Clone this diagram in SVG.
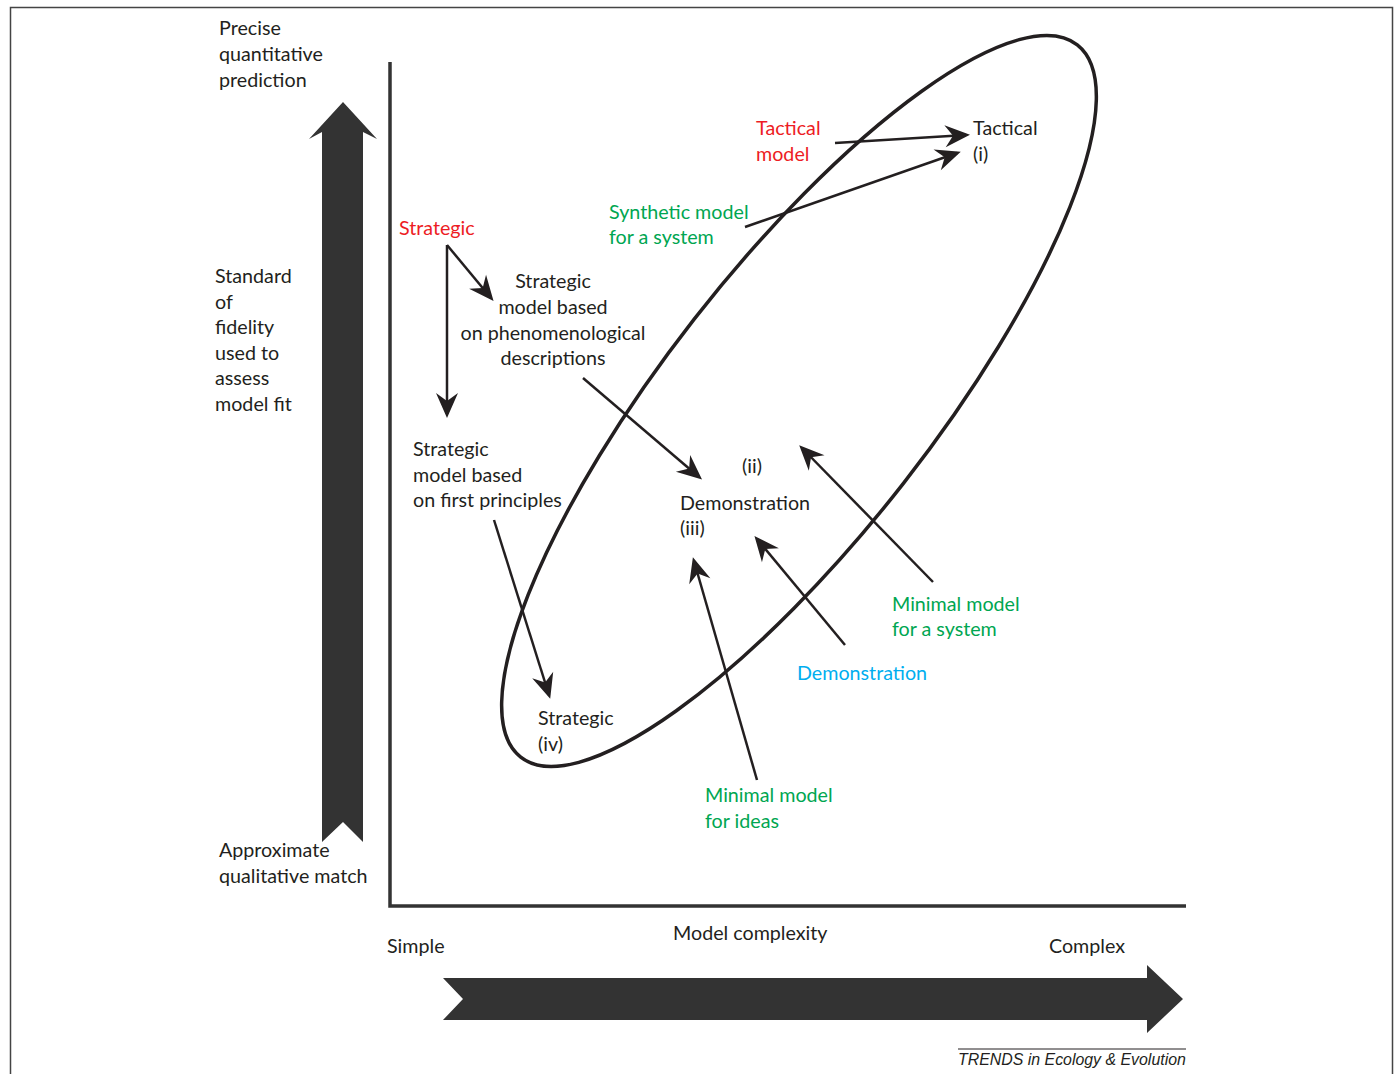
<svg xmlns="http://www.w3.org/2000/svg" width="1394" height="1074" viewBox="0 0 1394 1074">
<defs>
<style>
text{font-family:Lato,"Open Sans","Liberation Sans",sans-serif;font-size:19.7px;fill:#231f20}
.red{fill:#ed1c24}.green{fill:#00a651}.blue{fill:#00aeef}
.conn{stroke:#231f20;stroke-width:2.5;fill:none;marker-end:url(#ah)}
.axis{stroke:#333;stroke-width:3.5;fill:none}
.credit{font-family:"Liberation Sans",Arial,sans-serif;font-style:italic;font-size:15.9px}
</style>
<marker id="ah" viewBox="-22 -12 28 24" refX="0" refY="0" markerWidth="28" markerHeight="24" orient="auto" markerUnits="userSpaceOnUse">
<path d="M4,0 L-21,-11 L-13,0 L-21,11 Z" fill="#231f20"/>
</marker>
</defs>
<rect width="1394" height="1074" fill="#fff"/>
<path d="M10.5,1074 V7.5 H1392.5 V1074" fill="none" stroke="#444" stroke-width="1.5"/>

<g id="fidelity-arrow">
<polygon points="343,102 377,139 363,132 363,842 343,822 322,842 322,132 309,139" fill="#333"/>
</g>
<g id="complexity-arrow">
<polygon points="443,978 1147,978 1147,965 1183,999 1147,1033 1147,1020 443,1020 463,999" fill="#333"/>
</g>
<g id="axes">
<path class="axis" d="M390,62 V906 H1186"/>
</g>
<g id="domain-ellipse">
<ellipse cx="799" cy="401" rx="452" ry="133" transform="rotate(-52 799 401)" fill="none" stroke="#231f20" stroke-width="3.5"/>
</g>

<g id="labels-axis">
<text x="219" y="35">Precise</text>
<text x="219" y="61">quantitative</text>
<text x="219" y="87">prediction</text>
<text x="215" y="283">Standard</text>
<text x="215" y="309">of</text>
<text x="215" y="334">fidelity</text>
<text x="215" y="360">used to</text>
<text x="215" y="385">assess</text>
<text x="215" y="411">model fit</text>
<text x="219" y="857">Approximate</text>
<text x="219" y="883">qualitative match</text>
<text x="387" y="953">Simple</text>
<text x="673" y="940">Model complexity</text>
<text x="1049" y="953">Complex</text>
</g>

<g id="tactical-model"><text class="red" x="756" y="135">Tactical</text><text class="red" x="756" y="161">model</text></g>
<g id="tactical-i"><text x="973" y="135">Tactical</text><text x="973" y="161">(i)</text></g>
<g id="synthetic-model"><text class="green" x="609" y="219">Synthetic model</text><text class="green" x="609" y="244">for a system</text></g>
<g id="strategic-red"><text class="red" x="399" y="235">Strategic</text></g>
<g id="strategic-phenom">
<text x="553" y="288" text-anchor="middle">Strategic</text>
<text x="553" y="314" text-anchor="middle">model based</text>
<text x="553" y="340" text-anchor="middle">on phenomenological</text>
<text x="553" y="365" text-anchor="middle">descriptions</text>
</g>
<g id="strategic-first"><text x="413" y="456">Strategic</text><text x="413" y="482">model based</text><text x="413" y="507">on first principles</text></g>
<g id="ii"><text x="742" y="473">(ii)</text></g>
<g id="demonstration-iii"><text x="680" y="510">Demonstration</text><text x="680" y="535">(iii)</text></g>
<g id="minimal-system"><text class="green" x="892" y="611">Minimal model</text><text class="green" x="892" y="636">for a system</text></g>
<g id="demonstration-blue"><text class="blue" x="797" y="680">Demonstration</text></g>
<g id="strategic-iv"><text x="538" y="725">Strategic</text><text x="538" y="751">(iv)</text></g>
<g id="minimal-ideas"><text class="green" x="705" y="802">Minimal model</text><text class="green" x="705" y="828">for ideas</text></g>

<g id="credit">
<line x1="958" y1="1049" x2="1186" y2="1049" stroke="#231f20" stroke-width="1"/>
<text class="credit" x="958" y="1065">TRENDS in Ecology &amp; Evolution</text>
</g>

<g id="connectors">
<path class="conn" d="M835,143 L966,135"/>
<path class="conn" d="M745,227 L957,153"/>
<path class="conn" d="M447,245 L447,414"/>
<path class="conn" d="M447,245 L491,298"/>
<path class="conn" d="M583,378 L699,477"/>
<path class="conn" d="M933,582 L802,448"/>
<path class="conn" d="M845,645 L757,539"/>
<path class="conn" d="M757,780 L694,561"/>
<path class="conn" d="M494,520 L549,695"/>
</g>
</svg>
